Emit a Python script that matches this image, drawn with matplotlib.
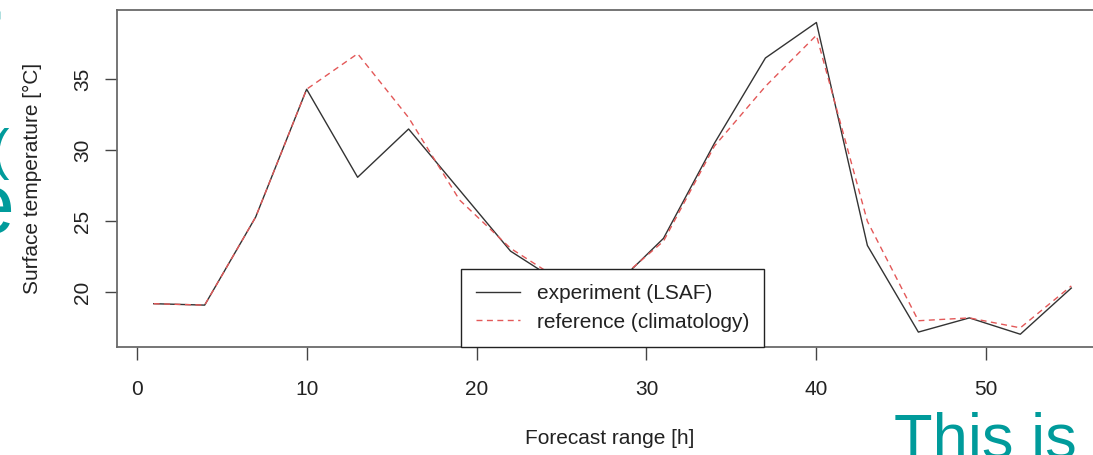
import matplotlib
matplotlib.use("Agg")
import matplotlib.pyplot as plt

# forecast lead times (h) and surface temperature (deg C)
hours = [1, 4, 7, 10, 13, 16, 19, 22, 25, 28, 31, 34, 37, 40, 43, 46, 49, 52, 55]
experiment = [19.2, 19.1, 25.3, 34.3, 28.1, 31.5, 27.2, 22.9, 20.6, 20.3,
              23.8, 30.5, 36.5, 39.0, 23.3, 17.2, 18.2, 17.05, 20.3]
reference = [19.2, 19.1, 25.3, 34.3, 36.8, 32.3, 26.5, 23.1, 20.8, 20.5,
             23.6, 30.3, 34.5, 38.1, 25.0, 18.0, 18.2, 17.5, 20.45]

xticks = [0, 10, 20, 30, 40, 50]
yticks = [20, 25, 30, 35]

plt.rcParams['font.family'] = ['Liberation Sans', 'DejaVu Sans']
FS = 15

W, H = 1093, 455
fig = plt.figure(figsize=(W / 100, H / 100), dpi=100)
ax = fig.add_axes([117 / W, 1 - 346.7 / H, 991 / W, 336.7 / H])

ax.plot(hours, experiment, color='#333333', lw=1.0, label='experiment (LSAF)')
ax.plot(hours, reference, color='#e35858', lw=1.0, dashes=(4.3, 3.2),
        label='reference (climatology)')
ax.margins(0.04)

ax.set_xticks(xticks)
ax.set_yticks(yticks)
ax.tick_params(axis='both', direction='out', length=9, width=1.0,
               color='#444444', labelsize=FS, labelcolor='#222222')
ax.tick_params(axis='x', pad=15)
ax.tick_params(axis='y', pad=9)
for lab in ax.get_yticklabels():
    lab.set_rotation(90)
    lab.set_va('center')

for sp in ax.spines.values():
    sp.set_color('#6a6a6a')
    sp.set_linewidth(1.3)

ax.set_xlabel('Forecast range [h]', fontsize=FS, color='#222222')
ax.set_ylabel('Surface temperature [°C]', fontsize=FS, color='#222222')
ax.xaxis.set_label_coords(0.497, -0.245)
ax.yaxis.set_label_coords(-0.076, 0.5)

leg = ax.legend(loc='lower center', borderaxespad=0, fancybox=False,
                fontsize=FS, handlelength=2.1, handletextpad=0.8,
                borderpad=0.72, labelspacing=0.45, framealpha=1)
leg.get_frame().set_edgecolor('#222222')
leg.get_frame().set_linewidth(1.0)
for t in leg.get_texts():
    t.set_color('#222222')

# slide text showing around the chart
teal = '#009b9b'
fig.text(894 / W, -3 / H, 'This is', fontsize=45.5, color=teal,
         ha='left', va='baseline')
fig.text(-30 / W, 1 - 63 / H, 'r', fontsize=69, color=teal,
         ha='left', va='baseline')
fig.text(-9 / W, 1 - 168 / H, '(', fontsize=40, color=teal,
         ha='left', va='baseline')
fig.text(-34 / W, 1 - 233 / H, 'e', fontsize=62, color=teal,
         ha='left', va='baseline')

fig.savefig('out.png', dpi=100)
